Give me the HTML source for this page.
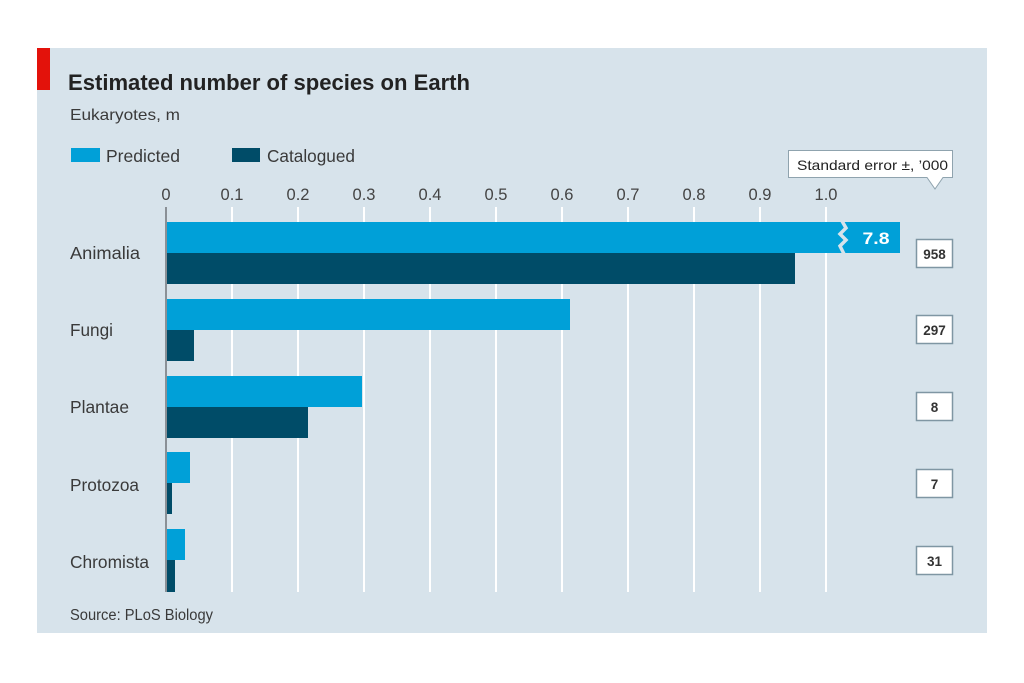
<!DOCTYPE html>
<html><head><meta charset="utf-8"><style>
html,body{margin:0;padding:0;background:#fff;}
svg{display:block;}
text{font-family:"Liberation Sans",sans-serif;}
</style></head><body>
<svg width="1024" height="683" viewBox="0 0 1024 683" xmlns="http://www.w3.org/2000/svg">
<rect x="0" y="0" width="1024" height="683" fill="#ffffff"/>
<rect x="37" y="48" width="950" height="585" fill="#d7e3eb"/>
<rect x="37" y="48" width="13" height="42" fill="#e3120b"/>
<text x="68" y="90" font-size="22" font-weight="bold" fill="#222" textLength="402" lengthAdjust="spacingAndGlyphs">Estimated number of species on Earth</text>
<text x="70" y="120" font-size="16" fill="#3a3a3a" textLength="110" lengthAdjust="spacingAndGlyphs">Eukaryotes, m</text>
<rect x="71" y="148" width="29" height="14" fill="#00a0d8"/>
<text x="106" y="162" font-size="17.5" fill="#3a3a3a" textLength="74" lengthAdjust="spacingAndGlyphs">Predicted</text>
<rect x="232" y="148" width="28" height="14" fill="#004c68"/>
<text x="267" y="162" font-size="17.5" fill="#3a3a3a" textLength="88" lengthAdjust="spacingAndGlyphs">Catalogued</text>
<g stroke="#ffffff" stroke-width="2">
<line x1="232" y1="207" x2="232" y2="592"/>
<line x1="298" y1="207" x2="298" y2="592"/>
<line x1="364" y1="207" x2="364" y2="592"/>
<line x1="430" y1="207" x2="430" y2="592"/>
<line x1="496" y1="207" x2="496" y2="592"/>
<line x1="562" y1="207" x2="562" y2="592"/>
<line x1="628" y1="207" x2="628" y2="592"/>
<line x1="694" y1="207" x2="694" y2="592"/>
<line x1="760" y1="207" x2="760" y2="592"/>
<line x1="826" y1="207" x2="826" y2="592"/>
</g>
<g font-size="16.5" fill="#444" text-anchor="middle">
<text x="166" y="200">0</text>
<text x="232" y="200">0.1</text>
<text x="298" y="200">0.2</text>
<text x="364" y="200">0.3</text>
<text x="430" y="200">0.4</text>
<text x="496" y="200">0.5</text>
<text x="562" y="200">0.6</text>
<text x="628" y="200">0.7</text>
<text x="694" y="200">0.8</text>
<text x="760" y="200">0.9</text>
<text x="826" y="200">1.0</text>
</g>
<rect x="166" y="222" width="734" height="31" fill="#00a0d8"/>
<polyline points="842,221 846,228 840,234 846,240 840,246 844,254" fill="none" stroke="#d7e3eb" stroke-width="3.5"/>
<rect x="166" y="253" width="629" height="31" fill="#004c68"/>
<rect x="166" y="299" width="404" height="31" fill="#00a0d8"/>
<rect x="166" y="330" width="28" height="31" fill="#004c68"/>
<rect x="166" y="376" width="196" height="31" fill="#00a0d8"/>
<rect x="166" y="407" width="142" height="31" fill="#004c68"/>
<rect x="166" y="452" width="24" height="31" fill="#00a0d8"/>
<rect x="166" y="483" width="6" height="31" fill="#004c68"/>
<rect x="166" y="529" width="19" height="31" fill="#00a0d8"/>
<rect x="166" y="560" width="9" height="32" fill="#004c68"/>
<line x1="166" y1="207" x2="166" y2="592" stroke="#8a9096" stroke-width="2"/>
<text x="876" y="244" font-size="17" font-weight="bold" fill="#ffffff" text-anchor="middle" textLength="27" lengthAdjust="spacingAndGlyphs">7.8</text>
<g font-size="17.5" fill="#3a3a3a">
<text x="70" y="259" textLength="70" lengthAdjust="spacingAndGlyphs">Animalia</text>
<text x="70" y="336" textLength="43" lengthAdjust="spacingAndGlyphs">Fungi</text>
<text x="70" y="413" textLength="59" lengthAdjust="spacingAndGlyphs">Plantae</text>
<text x="70" y="491" textLength="69" lengthAdjust="spacingAndGlyphs">Protozoa</text>
<text x="70" y="568" textLength="79" lengthAdjust="spacingAndGlyphs">Chromista</text>
</g>
<text x="70" y="620" font-size="15.5" fill="#3a3a3a" textLength="143" lengthAdjust="spacingAndGlyphs">Source: PLoS Biology</text>
<path d="M788.5,150.5 H952.5 V177.5 H943 L935,189 L927,177.5 H788.5 Z" fill="#ffffff" stroke="#8fa3ae" stroke-width="1"/>
<text x="797" y="170" font-size="14" fill="#222" textLength="151" lengthAdjust="spacingAndGlyphs">Standard error ±, ’000</text>
<g fill="#ffffff" stroke="#7f96a3" stroke-width="1.5">
<rect x="916.5" y="239.5" width="36" height="28"/>
<rect x="916.5" y="315.5" width="36" height="28"/>
<rect x="916.5" y="392.5" width="36" height="28"/>
<rect x="916.5" y="469.5" width="36" height="28"/>
<rect x="916.5" y="546.5" width="36" height="28"/>
</g>
<g font-size="13.5" font-weight="bold" fill="#333" text-anchor="middle">
<text x="934.5" y="259">958</text>
<text x="934.5" y="335">297</text>
<text x="934.5" y="412">8</text>
<text x="934.5" y="489">7</text>
<text x="934.5" y="566">31</text>
</g>
</svg>
</body></html>
